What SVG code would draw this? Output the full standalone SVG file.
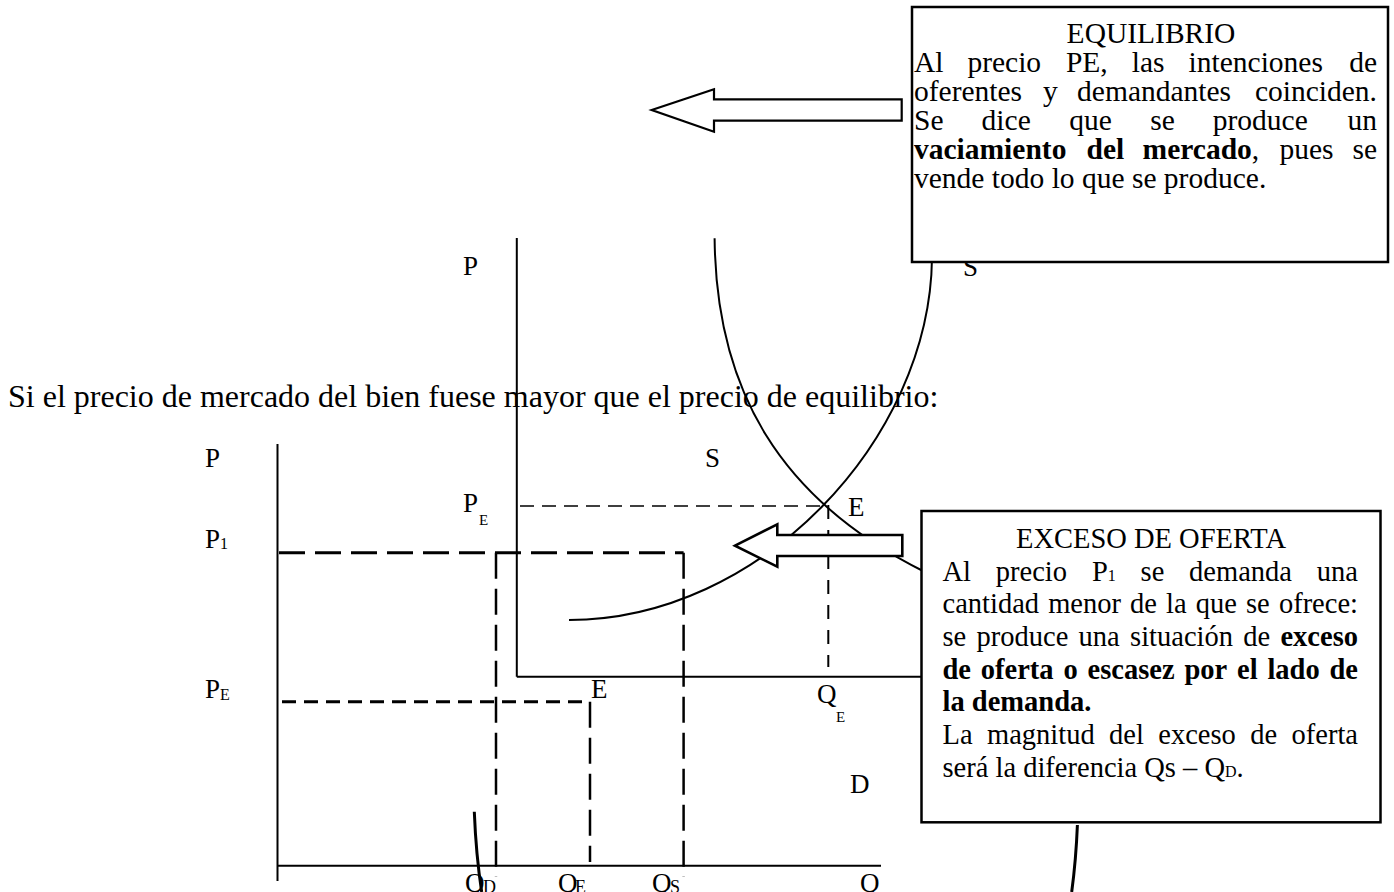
<svg xmlns="http://www.w3.org/2000/svg" width="1394" height="892" viewBox="0 0 1394 892">
<style>
text{font-family:"Liberation Serif","Times New Roman",serif;fill:#000}
.body{font-size:32px}
.lb{font-size:27px}
.sb{font-size:16px}
.bx1{font-size:29.5px}
.bx2{font-size:28.5px}
.b{font-weight:bold}
.ln{stroke:#000;fill:none;stroke-width:2}
.cv{stroke:#000;fill:none;stroke-width:2}
.thick{stroke:#000;fill:none;stroke-width:3}
.dh{stroke:#000;fill:none;stroke-width:3;stroke-dasharray:26 10}
.dh2{stroke:#000;fill:none;stroke-width:3;stroke-dasharray:14 8}
.dv{stroke:#000;fill:none;stroke-width:2.5;stroke-dasharray:26 10}
.dt{stroke:#000;fill:none;stroke-width:1.3;stroke-dasharray:14 8}
.dtv{stroke:#000;fill:none;stroke-width:2;stroke-dasharray:14 11}
.box{fill:#fff;stroke:#000;stroke-width:2.5}
.arr{fill:#fff;stroke:#000;stroke-width:2.2}
</style>
<rect width="1394" height="892" fill="#fff"/>
<g id="intro-text">
<text class="body" x="8" y="407">Si el precio de mercado del bien fuese mayor que el precio de equilibrio:</text>
</g>
<g id="lower-graph">
<line class="ln" x1="277.5" y1="444" x2="277.5" y2="881"/>
<line class="ln" x1="277.5" y1="865.7" x2="881" y2="865.7"/>
<line class="dh" x1="279" y1="552.7" x2="683.6" y2="552.7"/>
<line class="dh2" x1="282" y1="701.7" x2="590" y2="701.7"/>
<line class="dv" x1="496" y1="552.7" x2="496" y2="877"/>
<line class="dv" x1="590" y1="701.7" x2="590" y2="862"/>
<line class="dv" x1="683.6" y1="552.7" x2="683.6" y2="877"/>
<path class="thick" d="M474.3,811.7 Q476,855 481.7,892"/>
<path class="thick" d="M1077.4,825 Q1076,860 1071.7,892"/>
<text class="lb" x="205" y="467">P</text>
<text class="lb" x="705" y="467">S</text>
<text class="lb" x="205" y="548">P<tspan class="sb" x="220" y="549">1</tspan></text>
<text class="lb" x="205" y="698">P<tspan class="sb" x="220" y="700">E</tspan></text>
<text class="lb" x="591" y="698">E</text>
<text class="lb" x="465" y="892">Q<tspan style="font-size:18px" x="483" y="893">D</tspan></text>
<text class="lb" x="558" y="892">Q<tspan style="font-size:18px" x="575" y="893">E</tspan></text>
<text class="lb" x="652" y="892">Q<tspan style="font-size:18px" x="670" y="893">S</tspan></text>
<text class="lb" x="860" y="892">Q</text>
</g>
<g id="upper-graph">
<line class="ln" x1="516.8" y1="238" x2="516.8" y2="676.7"/>
<line class="ln" x1="516.8" y1="676.7" x2="922" y2="676.7"/>
<line class="dt" x1="520" y1="506" x2="828" y2="506"/>
<line class="dtv" x1="828.3" y1="505" x2="828.3" y2="667"/>
<path id="supply" class="cv" d="M569,620 C760,620 930,440 932,258"/>
<path id="demand" class="cv" d="M714.6,238.3 C716,390 780,500 925,572"/>
<text class="lb" x="463" y="275">P</text>
<text class="lb" x="963" y="276">S</text>
<text class="lb" x="463" y="512">P<tspan style="font-size:15px" x="479" y="525">E</tspan></text>
<text class="lb" x="848" y="516">E</text>
<text class="lb" x="817" y="703">Q<tspan style="font-size:15px" x="836" y="722">E</tspan></text>
<text class="lb" x="850" y="793">D</text>
</g>
<g id="connectors">
<polygon class="arr" points="651.7,110 714,89.3 714,99.3 901.7,99.3 901.7,120.7 714,120.7 714,131.7"/>
<polygon class="arr" style="stroke-width:2.6" points="735,545.7 777.3,524.3 777.3,535 902.3,535 902.3,556 777.3,556 777.3,566.7"/>
</g>
<g id="box-equilibrio">
<rect class="box" x="912" y="7" width="476" height="255"/>
<text class="bx1" x="1151" y="43" text-anchor="middle">EQUILIBRIO</text>
<text class="bx1" y="72"><tspan x="914">Al</tspan><tspan x="967.4">precio</tspan><tspan x="1065.9">PE,</tspan><tspan x="1131.8">las</tspan><tspan x="1188.6">intenciones</tspan></text>
<text class="bx1" x="1377" y="72" text-anchor="end">de</text>
<text class="bx1" y="101"><tspan x="914">oferentes</tspan><tspan x="1043">y</tspan><tspan x="1077.1">demandantes</tspan></text>
<text class="bx1" x="1377" y="101" text-anchor="end">coinciden.</text>
<text class="bx1" y="130"><tspan x="914">Se</tspan><tspan x="981.6">dice</tspan><tspan x="1069.2">que</tspan><tspan x="1150.2">se</tspan><tspan x="1212.8">produce</tspan></text>
<text class="bx1" x="1377" y="130" text-anchor="end">un</text>
<text class="bx1" y="159"><tspan class="b" x="914">vaciamiento</tspan><tspan class="b" x="1086.6">del</tspan><tspan class="b" x="1142.6">mercado</tspan><tspan>,</tspan><tspan x="1279.4">pues</tspan></text>
<text class="bx1" x="1377" y="159" text-anchor="end">se</text>
<text class="bx1" x="914" y="188">vende todo lo que se produce.</text>
</g>
<g id="box-exceso">
<rect class="box" x="921.5" y="511" width="459" height="311.3"/>
<text class="bx2" x="1151" y="548" text-anchor="middle">EXCESO DE OFERTA</text>
<text class="bx2" y="580.7"><tspan x="942.5">Al</tspan><tspan x="995.8">precio</tspan><tspan x="1091.9">P</tspan><tspan class="sb">1</tspan><tspan x="1140.6">se</tspan><tspan x="1189.1">demanda</tspan></text>
<text class="bx2" x="1358" y="580.7" text-anchor="end">una</text>
<text class="bx2" y="613"><tspan x="942.5">cantidad</tspan><tspan x="1048.2">menor</tspan><tspan x="1130.1">de</tspan><tspan x="1166.1">la</tspan><tspan x="1195.8">que</tspan><tspan x="1246">se</tspan></text>
<text class="bx2" x="1358" y="613" text-anchor="end">ofrece:</text>
<text class="bx2" y="645.7"><tspan x="942.5">se</tspan><tspan x="976.5">produce</tspan><tspan x="1078.6">una</tspan><tspan x="1130.1">situación</tspan><tspan x="1243.3">de</tspan></text>
<text class="bx2 b" x="1358" y="645.7" text-anchor="end">exceso</text>
<text class="bx2 b" y="678.5"><tspan x="942.5">de</tspan><tspan x="980.8">oferta</tspan><tspan x="1063.5">o</tspan><tspan x="1087.5">escasez</tspan><tspan x="1184.4">por</tspan><tspan x="1237">el</tspan><tspan x="1267.4">lado</tspan></text>
<text class="bx2 b" x="1358" y="678.5" text-anchor="end">de</text>
<text class="bx2 b" x="942.5" y="711.3">la demanda.</text>
<text class="bx2" y="744"><tspan x="942.5">La</tspan><tspan x="987">magnitud</tspan><tspan x="1109">del</tspan><tspan x="1158.3">exceso</tspan><tspan x="1250.2">de</tspan></text>
<text class="bx2" x="1358" y="744" text-anchor="end">oferta</text>
<text class="bx2" x="942.5" y="777">será la diferencia Qs – Q<tspan class="sb">D</tspan>.</text>
</g>
</svg>
